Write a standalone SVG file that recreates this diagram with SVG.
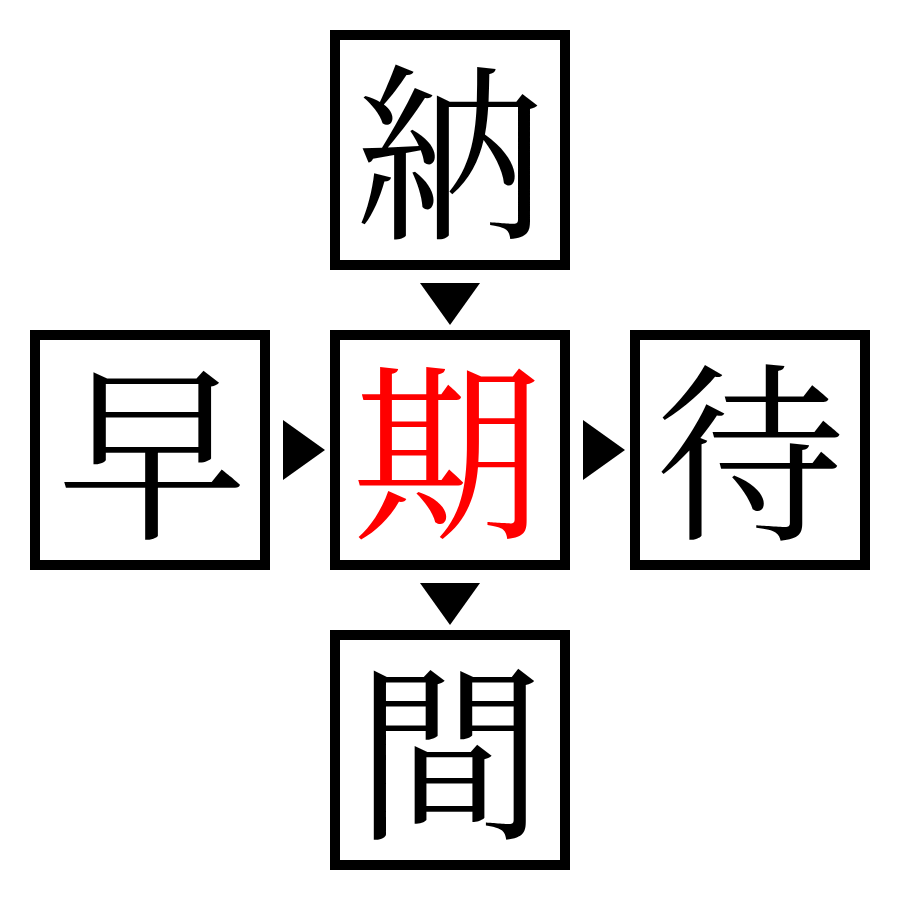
<svg xmlns="http://www.w3.org/2000/svg" width="900" height="900" viewBox="0 0 900 900">
<style>
.box{fill:#fff;stroke:#000;stroke-width:10}
.ch{font-family:"Noto Serif CJK JP","Noto Sans CJK JP",serif;font-size:190px;text-anchor:middle;dominant-baseline:central;fill:#000}
.arrow{fill:#000}
</style>
<rect width="900" height="900" fill="#fff"/>
<g id="connectors">
<polygon class="arrow" points="420,283 480,283 450,325"/>
<polygon class="arrow" points="283,420 283,480 325,450"/>
<polygon class="arrow" points="583,420 583,480 625,450"/>
<polygon class="arrow" points="420,583 480,583 450,625"/>
</g>
<g id="node-top"><rect class="box" x="335" y="35" width="230" height="230"/><text class="ch" x="450" y="141">納</text></g>
<g id="node-left"><rect class="box" x="35" y="335" width="230" height="230"/><text class="ch" x="152" y="441">早</text></g>
<g id="node-center"><rect class="box" x="335" y="335" width="230" height="230"/><text class="ch" x="447" y="441" style="fill:#f00">期</text></g>
<g id="node-right"><rect class="box" x="635" y="335" width="230" height="230"/><text class="ch" x="750" y="441">待</text></g>
<g id="node-bottom"><rect class="box" x="335" y="635" width="230" height="230"/><text class="ch" x="450" y="741">間</text></g>
</svg>
